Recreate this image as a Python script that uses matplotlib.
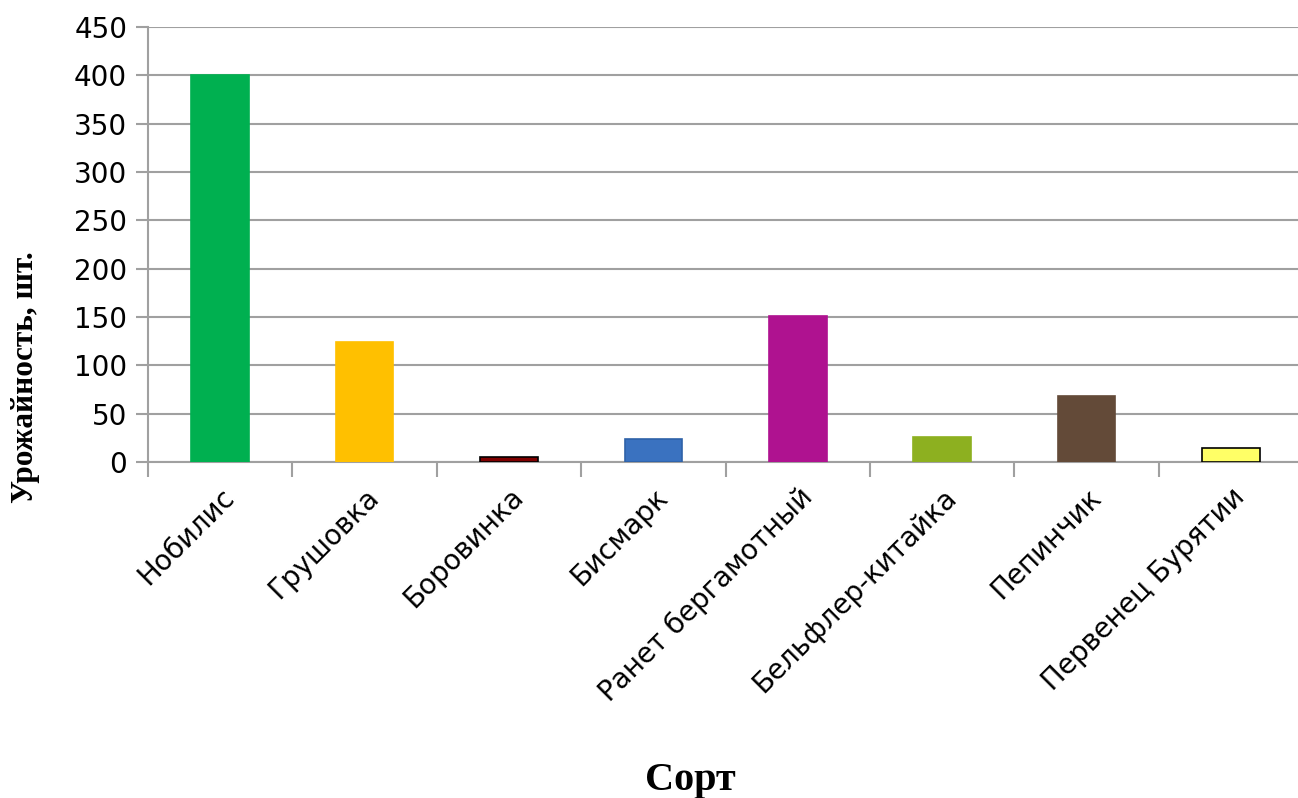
import matplotlib
matplotlib.use("Agg")
import matplotlib.pyplot as plt

sorts = ["Нобилис", "Грушовка", "Боровинка", "Бисмарк", "Ранет бергамотный",
         "Бельфлер-китайка", "Пепинчик", "Первенец Бурятии"]
harvest = [400, 124, 5, 24, 151, 26, 68, 15]
colors = ["#00B050", "#FFC000", "#7F0000", "#3A72C0", "#AF1290",
          "#8DB020", "#634A38", "#FFFF66"]
edges = ["#00B050", "#FFC000", "#000000", "#2F62A8", "#AF1290",
         "#8DB020", "#634A38", "#000000"]

fig = plt.figure(figsize=(12.98, 7.98), dpi=100)
ax = fig.add_axes([0.114, 0.421, 0.89, 0.545])

x = range(len(sorts))
ax.bar(x, harvest, width=0.4, color=colors, edgecolor=edges, linewidth=1.2, zorder=3)

ax.set_ylim(0, 450)
ax.set_yticks(range(0, 451, 50))
ax.set_xlim(-0.5, len(sorts) - 0.5)
ax.grid(axis="y", color="#a0a0a0", linewidth=1.5, zorder=0)
ax.tick_params(axis="y", length=9, width=1.5, color="#a0a0a0", labelsize=20, pad=6)

# category ticks between bars
ax.set_xticks([i - 0.5 for i in range(len(sorts) + 1)], minor=False)
ax.set_xticklabels([])
ax.set_xticks(list(x), minor=True)
ax.set_xticklabels(sorts, minor=True, rotation=45, ha="right", rotation_mode="anchor", fontsize=20)
ax.tick_params(axis="x", which="major", length=11, width=1.5, color="#a0a0a0")
ax.tick_params(axis="x", which="minor", length=0, pad=15)

for s in ["top", "right"]:
    ax.spines[s].set_visible(False)
for s in ["left", "bottom"]:
    ax.spines[s].set_color("#a0a0a0")
    ax.spines[s].set_linewidth(1.5)

fig.text(0.02, 0.528, "Урожайность, шт.", family="Liberation Serif", fontweight="bold",
         fontsize=22.5, rotation=90, ha="center", va="center")
fig.text(0.532, 0.01, "Сорт", family="Liberation Serif", fontweight="bold", fontsize=29, ha="center")

fig.savefig("out.png", dpi=100)
